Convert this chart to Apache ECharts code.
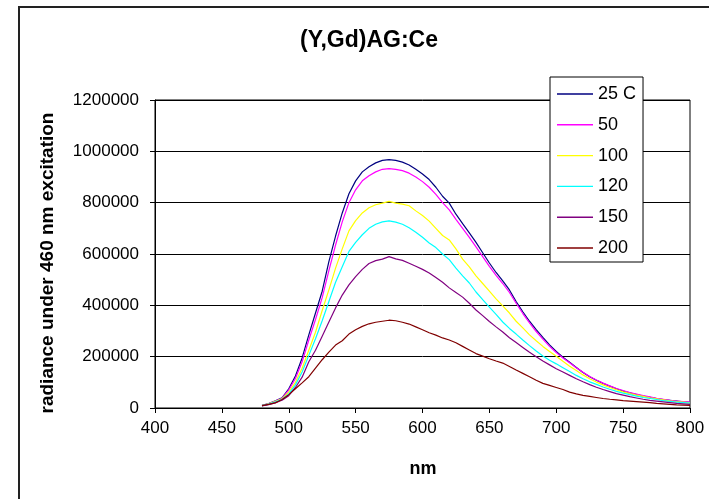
<!DOCTYPE html>
<html>
<head>
<meta charset="utf-8">
<script src="https://cdn.jsdelivr.net/npm/echarts@6/dist/echarts.min.js"></script>
<style>html,body{margin:0;padding:0;background:#fff}#c{width:709px;height:499px}</style>
</head>
<body>
<div id="c"></div>
<script>
const wavelengths = [
  480,485,490,495,500,505,510,515,520,525,530,535,540,
  545,550,555,560,565,570,575,580,585,590,595,600,605,
  610,615,620,625,630,635,640,645,650,655,660,665,670,
  675,680,685,690,695,700,705,710,715,720,725,730,735,
  740,745,750,755,760,765,770,775,780,785,790,795,800
];
const seriesNames = ['25 C','50','100','120','150','200'];
const s25 = [
  10000,17000,28000,40000,75000,125000,195000,285000,370000,455000,570000,670000,760000,
  835000,885000,920000,940000,955000,965000,968000,965000,958000,947000,930000,912000,890000,
  860000,825000,798000,755000,718000,682000,645000,605000,565000,528000,495000,460000,415000,
  375000,338000,305000,275000,246000,220000,198000,178000,158000,138000,122000,108000,96000,
  85000,75000,66000,59000,52000,46000,42000,37000,33000,30000,27000,24000,22000
];
const s50 = [
  9000,16000,27000,38000,70000,115000,180000,265000,345000,430000,535000,635000,725000,
  800000,850000,885000,905000,920000,930000,933000,930000,925000,915000,900000,882000,860000,
  832000,800000,772000,735000,700000,665000,628000,590000,552000,517000,485000,450000,408000,
  368000,332000,298000,268000,240000,216000,195000,176000,157000,139000,123000,109000,97000,
  86000,76000,68000,60000,54000,48000,43000,38000,34000,30000,27000,25000,23000
];
const s100 = [
  9000,16000,26000,36000,62000,100000,155000,225000,295000,380000,460000,545000,620000,
  690000,730000,760000,780000,792000,798000,805000,798000,794000,788000,768000,750000,728000,
  700000,672000,655000,620000,580000,550000,515000,485000,455000,425000,398000,370000,338000,
  312000,285000,262000,240000,220000,202000,182000,163000,146000,129000,114000,101000,90000,
  80000,71000,63000,56000,50000,45000,40000,36000,32000,28000,25000,23000,20000
];
const s120 = [
  9000,15000,24000,34000,55000,90000,140000,205000,270000,340000,415000,490000,550000,
  610000,645000,675000,700000,716000,725000,729000,724000,716000,702000,685000,665000,643000,
  625000,600000,578000,545000,515000,487000,452000,422000,393000,365000,335000,310000,288000,
  265000,243000,222000,203000,186000,172000,157000,142000,127000,114000,102000,92000,82000,
  73000,65000,58000,52000,46000,41000,37000,33000,29000,26000,23000,21000,19000
];
const s150 = [
  8000,13000,21000,30000,48000,80000,120000,180000,225000,280000,335000,390000,440000,
  480000,512000,540000,563000,574000,580000,590000,581000,575000,564000,552000,540000,526000,
  508000,490000,468000,450000,432000,408000,382000,360000,337000,316000,296000,274000,255000,
  236000,217000,200000,183000,168000,153000,140000,127000,114000,102000,91000,81000,72000,
  64000,56000,50000,44000,39000,34000,30000,27000,24000,21000,18000,16000,14000
];
const s200 = [
  9000,14000,20000,33000,52000,75000,98000,122000,155000,188000,218000,245000,262000,
  288000,305000,318000,328000,334000,338000,342000,340000,334000,327000,316000,305000,293000,
  284000,273000,265000,254000,240000,226000,212000,202000,192000,183000,175000,162000,148000,
  135000,122000,108000,96000,88000,80000,72000,62000,55000,49000,45000,41000,37000,
  34000,32000,29000,27000,25000,23000,21000,18000,16000,14000,12000,11000,10000
];
const seriesValues = [s25, s50, s100, s120, s150, s200];
const seriesColors = ['#000080','#FF00FF','#FFFF00','#00FFFF','#800080','#800000'];
const yTicks = [0,200000,400000,600000,800000,1000000,1200000];
const xTicks = [400,450,500,550,600,650,700,750,800];

const FONT = '"Liberation Sans", Arial, sans-serif';
const chart = echarts.init(document.getElementById('c'), null, {renderer:'canvas'});
const series = seriesNames.map((n,i)=>({
  name:n, type:'line', symbol:'none', showSymbol:false, smooth:false,
  data: wavelengths.map((w,j)=>[w, seriesValues[i][j]]),
  lineStyle:{color:seriesColors[i], width:1.2},
  itemStyle:{color:seriesColors[i]},
  animation:false
}));
chart.setOption({
  animation:false,
  backgroundColor:'#fff',
  title:{text:'(Y,Gd)AG:Ce', left:300, top:29, padding:0,
    textStyle:{fontFamily:FONT, fontSize:23, fontWeight:'bold', color:'#000'}},
  legend:{
    orient:'vertical', left:550, top:77,
    padding:[7,7,4,7], itemGap:10.8, itemWidth:36, itemHeight:1.4, itemTextGap:5,
    icon:'rect',
    backgroundColor:'#fff', borderColor:'#000', borderWidth:1, borderRadius:0,
    textStyle:{fontFamily:FONT, fontSize:18, color:'#000', lineHeight:20},
    data:seriesNames
  },
  grid:{left:155, right:19, top:100, bottom:91, show:true, borderColor:'#000', borderWidth:1, backgroundColor:'#fff'},
  xAxis:{type:'value', min:xTicks[0], max:xTicks[xTicks.length-1], interval:50,
    axisLine:{show:true, onZero:false, lineStyle:{color:'#000', width:1}},
    axisTick:{show:true, inside:false, length:5, lineStyle:{color:'#000'}},
    axisLabel:{fontFamily:FONT, fontSize:17, color:'#000', margin:12},
    splitLine:{show:false}},
  yAxis:{type:'value', min:yTicks[0], max:yTicks[yTicks.length-1], interval:200000,
    axisLine:{show:true, lineStyle:{color:'#000', width:1}},
    axisTick:{show:true, inside:false, length:5, lineStyle:{color:'#000'}},
    axisLabel:{fontFamily:FONT, fontSize:17, color:'#000', margin:16, formatter:v=>String(v)},
    splitLine:{show:true, lineStyle:{color:'#000', width:1}}},
  graphic:[
    {type:'rect', z:-1, shape:{x:19, y:7, width:800, height:600}, style:{fill:'none', stroke:'#222', lineWidth:2}},
    {type:'text', x:48, y:263, rotation:Math.PI/2,
      style:{text:'radiance under 460 nm excitation', font:'bold 19px "Liberation Sans", Arial, sans-serif', fill:'#000', align:'center', verticalAlign:'middle'}},
    {type:'text', x:423, y:469,
      style:{text:'nm', font:'bold 18px "Liberation Sans", Arial, sans-serif', fill:'#000', align:'center', verticalAlign:'middle'}}
  ],
  series:series
});
</script>
</body>
</html>
